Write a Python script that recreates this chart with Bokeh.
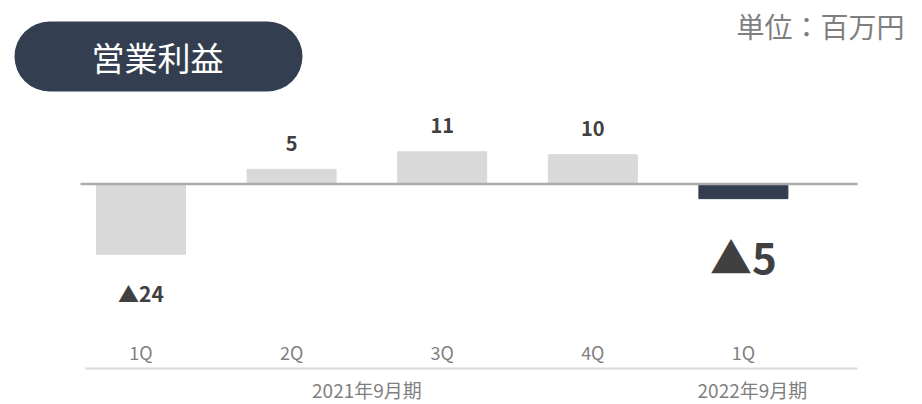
from bokeh.plotting import figure
from bokeh.models import ColumnDataSource, Range1d, BoxAnnotation
from bokeh.core.properties import value
from bokeh.embed import file_html
from bokeh.resources import INLINE

# ---- data ----
quarters = ["1Q", "2Q", "3Q", "4Q", "1Q"]
profit = [-24, 5, 11, 10, -5]
fiscal_years = ["2021年9月期", "2022年9月期"]
year_groups = [[0, 1, 2, 3], [4]]
highlight = [False, False, False, False, True]
title = "営業利益"
unit = "単位：百万円"

# ---- layout (picture pixel geometry) ----
W, H = 922, 404
OX, OY = 0, 0
C0, STEP = 140.5, 150.6      # first category centre, spacing (px)
Y0, S = 183.5, 2.93          # zero line (px), px per unit


def px2x(X):
    return (X - C0) / STEP


def px2y(Y):
    return (Y0 - Y) / S


FONT = value("Noto Sans CJK JP")
NAVY = "#333f50"
LIGHT = "#d9d9d9"
GRAY_TXT = "#7f7f7f"
DARK_TXT = "#404040"

p = figure(width=W, height=H, output_backend="svg", toolbar_location=None,
           x_range=Range1d(px2x(OX), px2x(OX + W)),
           y_range=Range1d(px2y(OY + H), px2y(OY)),
           x_axis_location=None, y_axis_location=None, min_border=0)
p.grid.visible = False
p.outline_line_color = None
p.background_fill_color = "white"
p.border_fill_color = "white"

idx = list(range(len(quarters)))
colors = [NAVY if h else LIGHT for h in highlight]

# bars
bars = ColumnDataSource(dict(x=idx, top=profit, color=colors))
p.vbar(x="x", top="top", bottom=0, width=89 / STEP, color="color", source=bars)

# zero line
p.line(x=[px2x(80), px2x(857)], y=[0, 0], line_color="#aeaaaa", line_width=2.5)

# value labels
lab_x, lab_y, lab_t, lab_s = [], [], [], []
for i, v in enumerate(profit):
    lab_x.append(i)
    if v >= 0:
        lab_y.append(v + 26 / S)
        lab_t.append(f"{v}")
        lab_s.append("20px")
    else:
        off = 57 if highlight[i] else 39
        lab_y.append(v - off / S)
        lab_t.append(f"▲{-v}")
        lab_s.append("42px" if highlight[i] else "21px")
labels = ColumnDataSource(dict(x=lab_x, y=lab_y, t=lab_t, s=lab_s))
p.text(x="x", y="y", text="t", source=labels, text_font=FONT,
       text_font_size="s", text_font_style="bold", text_color=DARK_TXT,
       text_align="center", text_baseline="middle")

# quarter labels
qsrc = ColumnDataSource(dict(x=idx, y=[px2y(351)] * len(idx), t=quarters))
p.text(x="x", y="y", text="t", source=qsrc, text_font=FONT,
       text_font_size="18px", text_color=GRAY_TXT,
       text_align="center", text_baseline="middle")

# separator
p.line(x=[px2x(85), px2x(857)], y=[px2y(368)] * 2, line_color=LIGHT, line_width=2)

# fiscal-year labels
yx = []
for g in year_groups:
    c = sum(g) / len(g)
    if len(g) == 1:
        c += 9 / STEP
    yx.append(c)
ysrc = ColumnDataSource(dict(x=yx, y=[px2y(389)] * len(yx), t=fiscal_years))
p.text(x="x", y="y", text="t", source=ysrc, text_font=FONT,
       text_font_size="19px", text_color=GRAY_TXT,
       text_align="center", text_baseline="middle")

# title pill
pill = BoxAnnotation(left=px2x(14), right=px2x(302), top=px2y(21), bottom=px2y(91),
                     fill_color=NAVY, fill_alpha=1.0, line_color=None,
                     border_radius=35, level="underlay")
p.add_layout(pill)
p.text(x=[px2x(157)], y=[px2y(56)], text=[title], text_font=FONT,
       text_font_size="33px", text_color="white",
       text_align="center", text_baseline="middle")

# unit
p.text(x=[px2x(904)], y=[px2y(25)], text=[unit], text_font=FONT,
       text_font_size="28px", text_color=GRAY_TXT,
       text_align="right", text_baseline="middle")

open("out.html", "w").write(file_html(p, INLINE))
